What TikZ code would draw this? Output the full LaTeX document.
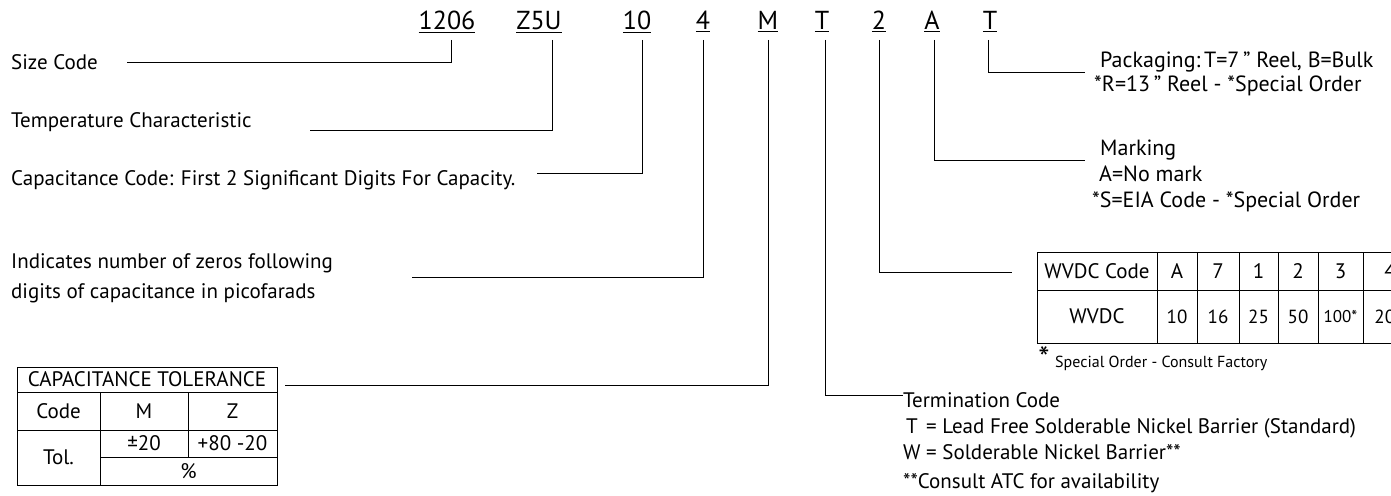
\documentclass[tikz,border=0pt]{standalone}
\usepackage{fontspec}
\usepackage{calc}
\setmainfont{PT Sans}
\begin{document}
\begin{tikzpicture}[x=1pt,y=-1pt,
  every node/.style={inner sep=0pt, font=\fontsize{21}{27}\selectfont},
  lab/.style={anchor=west, align=left},
  codetxt/.style={font=\fontsize{26}{28}\selectfont, anchor=base},
  ln/.style={line width=1pt},
  cell/.style={draw, line width=1pt, align=center},
  num/.style={cell, font=\fontsize{19}{22}\selectfont}]
\clip (0,0) rectangle (1391,495);
% part number codes
\node[codetxt] (c1) at (447,30) {\underline{1206}};
\node[codetxt] (c2) at (539,30) {\underline{Z5U}};
\node[codetxt] (c3) at (637,30) {\underline{10}};
\node[codetxt] (c4) at (703,30) {\underline{4}};
\node[codetxt] (c5) at (768,30) {\underline{M}};
\node[codetxt] (c6) at (822,30) {\underline{T}};
\node[codetxt] (c7) at (879,30) {\underline{2}};
\node[codetxt] (c8) at (932,30) {\underline{A}};
\node[codetxt] (c9) at (990,30) {\underline{T}};
% line starts under codes
\coordinate (t1) at (451,40);
\coordinate (t2) at (552,40);
\coordinate (t3) at (642,40);
\coordinate (t4) at (703,40);
\coordinate (t5) at (768,40);
\coordinate (t6) at (825,40);
\coordinate (t7) at (879,40);
\coordinate (t8) at (934,40);
\coordinate (t9) at (988,40);
% line ends near labels
\coordinate (e1) at (127,63);
\coordinate (e2) at (310,130);
\coordinate (e3) at (537,173);
\coordinate (e4) at (412,277);
\coordinate (e5) at (285,385);
\coordinate (e6) at (903,395);
\coordinate (e7) at (1012,272);
\coordinate (e8) at (1085,160);
\coordinate (e9) at (1085,72);
% left labels
\node[lab] (size) at (11,62) {Size Code};
\node[lab] (temp) at (11,122) {Temperature Characteristic};
\node[lab] (capc) at (11,180) {Capacitance Code: First 2 Significant Digits For Capacity.};
\node[lab, font=\fontsize{21}{30}\selectfont] (zeros) at (11,278) {Indicates number of zeros following\\digits of capacitance in picofarads};
% right labels
\node[lab, font=\fontsize{22}{24}\selectfont] (pack) at (1094,74) {\hspace*{6pt}Packaging:\,T=7\,” Reel, B=Bulk\\*R=13\,” Reel - *Special Order};
\node[lab, font=\fontsize{22}{26}\selectfont] (mark) at (1092,176) {\hspace*{8pt}Marking\\\hspace*{7pt}A=No mark\\*S=EIA Code - *Special Order};
\node[lab, font=\fontsize{21}{26}\selectfont] (term) at (903,426) {Termination Code\\\makebox[\widthof{W}][c]{T} = Lead Free Solderable Nickel Barrier (Standard)\\W = Solderable Nickel Barrier**};
\node[lab] (atc) at (903,483) {**Consult ATC for availability};
% WVDC table
\node[cell, minimum width=120pt, minimum height=38pt] (w0) at (1097,271) {WVDC Code};
\node[cell, minimum width=40pt, minimum height=38pt] (w1) at (1177,271) {A};
\node[cell, minimum width=42pt, minimum height=38pt] (w2) at (1218,271) {7};
\node[cell, minimum width=39pt, minimum height=38pt] (w3) at (1258.5,271) {1};
\node[cell, minimum width=40pt, minimum height=38pt] (w4) at (1298,271) {2};
\node[cell, minimum width=45pt, minimum height=38pt] (w5) at (1340.5,271) {3};
\node[cell, minimum width=54pt, minimum height=38pt] (w6) at (1390,271) {4};
\node[cell, minimum width=120pt, minimum height=53pt] (v0) at (1097,316.5) {WVDC};
\node[num, minimum width=40pt, minimum height=53pt] (v1) at (1177,316.5) {10};
\node[num, minimum width=42pt, minimum height=53pt] (v2) at (1218,316.5) {16};
\node[num, minimum width=39pt, minimum height=53pt] (v3) at (1258.5,316.5) {25};
\node[num, minimum width=40pt, minimum height=53pt] (v4) at (1298,316.5) {50};
\node[num, minimum width=45pt, minimum height=53pt, font=\fontsize{17}{20}\selectfont] (v5) at (1340.5,316.5) {100*};
\node[num, minimum width=54pt, minimum height=53pt] (v6) at (1390,316.5) {200};
\node[font=\fontsize{32}{32}\selectfont] (star) at (1044,358) {*};
\node[lab, font=\fontsize{16}{18}\selectfont] (spec) at (1055,363) {Special Order - Consult Factory};
% capacitance tolerance table
\node[cell, minimum width=260pt, minimum height=25pt] (h) at (147,379.5) {CAPACITANCE TOLERANCE};
\node[cell, minimum width=83pt, minimum height=38pt] (k0) at (58.5,411) {Code};
\node[cell, minimum width=88pt, minimum height=38pt] (k1) at (144,411) {M};
\node[cell, minimum width=89pt, minimum height=38pt] (k2) at (232.5,411) {Z};
\node[cell, minimum width=83pt, minimum height=55pt] (r0) at (58.5,457.5) {Tol.};
\node[cell, minimum width=88pt, minimum height=27pt] (r1) at (144,443.5) {±20};
\node[cell, minimum width=89pt, minimum height=27pt] (r2) at (232.5,443.5) {+80 -20};
\node[cell, minimum width=177pt, minimum height=28pt] (pc) at (188.5,471) {\%};
% connectors
\draw[ln] (t1) |- (e1);
\draw[ln] (t2) |- (e2);
\draw[ln] (t3) |- (e3);
\draw[ln] (t4) |- (e4);
\draw[ln] (t5) |- (e5);
\draw[ln] (t6) |- (e6);
\draw[ln] (t7) |- (e7);
\draw[ln] (t8) |- (e8);
\draw[ln] (t9) |- (e9);
\end{tikzpicture}
\end{document}
